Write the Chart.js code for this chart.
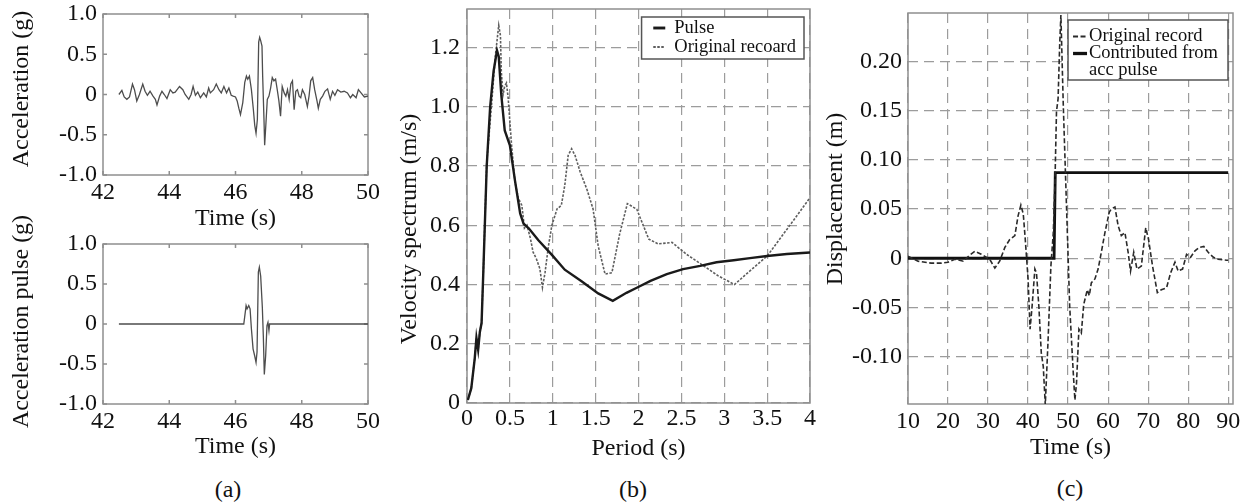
<!DOCTYPE html>
<html>
<head>
<meta charset="utf-8">
<script src="https://cdn.jsdelivr.net/npm/chart.js@4.4.1/dist/chart.umd.min.js"></script>
<style>
  body { margin: 0; background: #fff; }
  #figura { position: relative; width: 1248px; height: 504px; overflow: hidden; background: #fff; }
  canvas { position: absolute; }
  .pie { position: absolute; font: 24px "Liberation Serif", "Times New Roman", serif; color: #111; transform: translate(-50%, -50%); }
</style>
</head>
<body>
<div id="figura">
  <canvas id="graficoA1" width="380" height="233" style="left:0px;top:0px"></canvas>
  <canvas id="graficoA2" width="380" height="271" style="left:0px;top:190px"></canvas>
  <canvas id="graficoB" width="445" height="463" style="left:380px;top:0px"></canvas>
  <canvas id="graficoC" width="433" height="462" style="left:815px;top:0px"></canvas>
  <div class="pie" style="left:228px;top:489px">(a)</div>
  <div class="pie" style="left:633px;top:489px">(b)</div>
  <div class="pie" style="left:1070px;top:488px">(c)</div>
</div>
<script>
// (a) aceleracion registrada
const tiempoAcel = [
    42.48, 42.57, 42.64, 42.72, 42.80, 42.89, 42.95, 43.02, 43.10, 43.20,
    43.27, 43.34, 43.42, 43.51, 43.58, 43.63, 43.71, 43.78, 43.85, 43.93,
    44.03, 44.11, 44.18, 44.31, 44.41, 44.48, 44.59, 44.66, 44.72, 44.79,
    44.86, 44.94, 45.04, 45.12, 45.19, 45.24, 45.34, 45.42, 45.50, 45.57,
    45.65, 45.73, 45.80, 45.87, 45.93, 46.00, 46.05, 46.10, 46.15, 46.22,
    46.28, 46.33, 46.37, 46.42, 46.48, 46.54, 46.58, 46.62, 46.66, 46.70,
    46.73, 46.76, 46.80, 46.82, 46.86, 46.88, 46.92, 46.96, 47.01, 47.06,
    47.11, 47.16, 47.21, 47.26, 47.31, 47.36, 47.41, 47.47, 47.52, 47.57,
    47.62, 47.67, 47.72, 47.77, 47.82, 47.87, 47.92, 47.97, 48.02, 48.09,
    48.17, 48.22, 48.27, 48.33, 48.39, 48.46, 48.50, 48.56, 48.63, 48.70,
    48.78, 48.86, 48.93, 49.00, 49.08, 49.18, 49.28, 49.38, 49.47, 49.54,
    49.64, 49.71, 49.79, 49.89, 50.00,
];
const valorAcel = [
    0, 0.05, -0.03, -0.06, -0.03, 0.13, 0.06, -0.08, 0, 0.13,
    0.04, -0.01, 0.04, -0.02, -0.06, -0.13, -0.02, 0.04, 0, -0.05,
    0.06, 0.02, 0.03, 0.10, 0.06, 0, -0.06, 0, 0.10, -0.01,
    0.03, -0.04, 0.02, -0.03, 0.08, 0.02, 0.06, 0.13, 0.06, 0.02,
    0.10, 0.02, 0.08, -0.01, -0.02, -0.03, -0.08, -0.17, -0.25, -0.10,
    0.15, 0.23, 0.19, 0.23, 0.06, -0.19, -0.38, -0.48, -0.31, 0.65,
    0.71, 0.67, 0.60, 0.23, -0.31, -0.63, -0.35, -0.06, -0.02, 0.08,
    0.21, 0.17, 0.19, 0.06, -0.08, -0.27, 0.10, 0.02, -0.02, 0.06,
    -0.06, 0.13, 0.17, -0.19, 0.04, 0.06, -0.02, -0.04, 0.06, 0,
    -0.15, -0.02, 0.17, 0.21, 0.06, -0.08, -0.17, -0.06, -0.02, 0.04,
    0.07, -0.06, 0.04, -0.01, 0.06, 0.03, 0.04, 0.02, -0.04, 0,
    -0.04, 0.06, 0.02, -0.03, -0.02,
];

// (a) pulso de aceleracion
const tiempoPulso = [42.48, 46.25, 46.32, 46.35, 46.40, 46.44, 46.48, 46.53, 46.58, 46.62, 46.65, 46.69, 46.72, 46.76, 46.81, 46.84, 46.87, 46.91, 46.95, 46.98, 47.01, 47.03, 50];
const valorPulso = [0, 0, 0.23, 0.19, 0.23, 0.19, -0.06, -0.31, -0.40, -0.48, -0.35, 0.65, 0.71, 0.60, 0.21, -0.15, -0.63, -0.40, -0.02, 0.02, -0.08, 0, 0];

// (b) espectro de velocidad
const periodoPulso = [0.01, 0.05, 0.09, 0.11, 0.13, 0.15, 0.17, 0.19, 0.23, 0.27, 0.31, 0.35, 0.37, 0.40, 0.44, 0.50, 0.56, 0.62, 0.66, 0.72, 0.83, 0.99, 1.14, 1.34, 1.53, 1.70, 1.86, 1.98, 2.14, 2.33, 2.52, 2.72, 2.91, 3.11, 3.30, 3.50, 3.73, 4.0];
const espectroPulso = [0.01, 0.05, 0.15, 0.22, 0.18, 0.24, 0.27, 0.44, 0.80, 1.00, 1.12, 1.19, 1.17, 1.04, 0.92, 0.87, 0.75, 0.64, 0.605, 0.59, 0.55, 0.50, 0.45, 0.41, 0.37, 0.345, 0.372, 0.389, 0.412, 0.435, 0.452, 0.463, 0.475, 0.482, 0.489, 0.496, 0.503, 0.508];
const periodoOriginal = [
    0.01, 0.05, 0.09, 0.11, 0.13, 0.15, 0.17, 0.19, 0.23, 0.29,
    0.33, 0.37, 0.39, 0.40, 0.42, 0.44, 0.46, 0.48, 0.52, 0.56,
    0.60, 0.64, 0.67, 0.70, 0.74, 0.77, 0.81, 0.85, 0.88, 0.91,
    0.95, 0.99, 1.05, 1.10, 1.14, 1.18, 1.22, 1.26, 1.32, 1.40,
    1.47, 1.53, 1.61, 1.69, 1.78, 1.87, 1.98, 2.12, 2.23, 2.39,
    2.56, 2.76, 2.93, 3.12, 3.30, 3.50, 3.73, 4.0,
];
const espectroOriginal = [
    0.01, 0.05, 0.15, 0.22, 0.18, 0.24, 0.27, 0.44, 0.81, 1.02,
    1.17, 1.275, 1.24, 1.12, 1.04, 1.07, 1.08, 1.03, 0.87, 0.745,
    0.69, 0.667, 0.59, 0.60, 0.555, 0.51, 0.486, 0.453, 0.39, 0.44,
    0.53, 0.60, 0.655, 0.667, 0.734, 0.836, 0.858, 0.836, 0.78, 0.72,
    0.655, 0.53, 0.435, 0.44, 0.57, 0.673, 0.654, 0.553, 0.537, 0.542,
    0.502, 0.463, 0.429, 0.40, 0.446, 0.496, 0.586, 0.693,
];

// (c) desplazamiento
const tiempoDesp = [
    10, 12.5, 15.8, 18.3, 20, 21.7, 23.8, 25.4, 26.7, 28.3,
    30.4, 31.7, 32.9, 34.2, 35.4, 36.7, 37.5, 38.2, 38.8, 39.3,
    40, 40.5, 41, 41.7, 42.1, 42.7, 43.3, 43.8, 44.3, 45,
    45.7, 46.3, 46.7, 47.1, 47.5, 47.9, 48.2, 48.8, 49.6, 50.4,
    51.3, 51.7, 52.1, 52.7, 53.3, 53.9, 54.8, 55.3, 55.8, 56.7,
    57.5, 58.3, 59.2, 60.3, 60.8, 61.7, 62.5, 63.3, 64.2, 65,
    65.6, 66.4, 67.2, 68.3, 69.4, 70.1, 71.1, 72.3, 73.3, 74.6,
    75.6, 76.7, 77.5, 78.6, 79.6, 80.6, 81.7, 82.8, 83.9, 85,
    86.3, 87.5, 89.6, 90,
];
const despOriginal = [
    0.002, -0.003, -0.005, -0.005, -0.004, -0.001, -0.003, 0.003, 0.007, 0.004,
    -0.001, -0.010, -0.003, 0.011, 0.019, 0.023, 0.043, 0.054, 0.045, 0.019,
    -0.021, -0.072, -0.049, -0.011, -0.015, -0.049, -0.096, -0.110, -0.149, -0.083,
    -0.008, 0.026, 0.074, 0.149, 0.162, 0.217, 0.247, 0.155, 0.053, -0.049,
    -0.117, -0.144, -0.127, -0.072, -0.076, -0.047, -0.032, -0.038, -0.025, -0.021,
    -0.011, 0.006, 0.026, 0.047, 0.050, 0.052, 0.033, 0.023, 0.026, 0.006,
    -0.013, 0.006, -0.011, -0.008, 0.031, 0.019, -0.008, -0.035, -0.032, -0.030,
    -0.015, -0.004, -0.013, -0.011, 0.004, 0.001, 0.0075, 0.011, 0.012, 0.006,
    0.001, -0.001, -0.002, -0.002,
];
const tiempoAporte = [10, 46.5, 46.8, 90];
const despAporte = [0, 0, 0.087, 0.087];

const fuente = "'Liberation Serif', 'Times New Roman', serif";

Chart.defaults.font.family = fuente;
Chart.defaults.font.size = 24;
Chart.defaults.color = "#111";

const puntos = (xs, ys) => xs.map((x, i) => ({ x: x, y: ys[i] }));

const conCero = (dec) => (v) => (Math.abs(v) < 1e-9 ? "0" : v.toFixed(dec));

// marco gris alrededor del area de trazado
const marco = {
    id: "marco",
    beforeDatasetsDraw(chart, args, opts) {
        const { ctx, chartArea: a, scales } = chart;
        ctx.save();
        ctx.strokeStyle = "#8f8f8f";
        ctx.lineWidth = 1.5;
        ctx.strokeRect(a.left, a.top, a.right - a.left, a.bottom - a.top);
        if (opts.ticksInternos) {
            ctx.beginPath();
            scales.x.ticks.forEach((t) => {
                const px = scales.x.getPixelForValue(t.value);
                ctx.moveTo(px, a.bottom);
                ctx.lineTo(px, a.bottom - 4);
                ctx.moveTo(px, a.top);
                ctx.lineTo(px, a.top + 4);
            });
            scales.y.ticks.forEach((t) => {
                const py = scales.y.getPixelForValue(t.value);
                ctx.moveTo(a.left, py);
                ctx.lineTo(a.left + 4, py);
                ctx.moveTo(a.right, py);
                ctx.lineTo(a.right - 4, py);
            });
            ctx.stroke();
        }
        ctx.restore();
    },
};

// titulo vertical del eje y
const tituloY = {
    id: "tituloY",
    afterDraw(chart, args, o) {
        const { ctx, chartArea: a } = chart;
        ctx.save();
        ctx.translate(o.x, (a.top + a.bottom) / 2 + o.desplazar);
        ctx.rotate(-Math.PI / 2);
        ctx.font = "24px " + fuente;
        ctx.fillStyle = "#111";
        ctx.textAlign = "center";
        ctx.textBaseline = "middle";
        ctx.fillText(o.texto, 0, 0);
        ctx.restore();
    },
};

// leyenda con caja
const leyendaCaja = {
    id: "leyendaCaja",
    afterDraw(chart, args, o) {
        const { ctx, chartArea: a } = chart;
        const sets = chart.data.datasets;
        ctx.save();
        ctx.font = o.tamano + "px " + fuente;
        let ancho = 0;
        let lineas = 0;
        sets.forEach((ds) => {
            ds.label.split("\n").forEach((t) => {
                ancho = Math.max(ancho, ctx.measureText(t).width);
                lineas++;
            });
        });
        const w = o.padIzq + o.muestra + o.hueco + ancho + o.padDer;
        const h = o.padSup + lineas * o.interlinea + o.padInf;
        const x0 = a.right - o.margenDer - w;
        const y0 = a.top + o.margenSup;
        ctx.fillStyle = "#fff";
        ctx.fillRect(x0, y0, w, h);
        ctx.strokeStyle = "#555";
        ctx.lineWidth = 1.5;
        ctx.strokeRect(x0, y0, w, h);
        let y = y0 + o.padSup + o.interlinea / 2;
        sets.forEach((ds) => {
            ctx.save();
            ctx.strokeStyle = ds.borderColor;
            ctx.lineWidth = ds.borderWidth + 0.5;
            ctx.setLineDash(ds.borderDash || []);
            ctx.beginPath();
            ctx.moveTo(x0 + o.padIzq, y);
            ctx.lineTo(x0 + o.padIzq + o.muestra, y);
            ctx.stroke();
            ctx.restore();
            ctx.fillStyle = "#111";
            ctx.textAlign = "left";
            ctx.textBaseline = "middle";
            ds.label.split("\n").forEach((t) => {
                ctx.fillText(t, x0 + o.padIzq + o.muestra + o.hueco, y);
                y += o.interlinea;
            });
        });
        ctx.restore();
    },
};

function crearGrafico(id, conjuntos, op) {
    const rejilla = op.rejilla
        ? { color: "#9c9c9c", lineWidth: 1.2, drawTicks: false }
        : { display: false, drawTicks: false };
    return new Chart(document.getElementById(id), {
        type: "line",
        data: { datasets: conjuntos },
        options: {
            responsive: false,
            animation: false,
            events: [],
            layout: { padding: op.padding },
            elements: { point: { radius: 0 }, line: { tension: 0 } },
            plugins: {
                legend: { display: false },
                tooltip: { enabled: false },
                marco: { ticksInternos: !op.rejilla },
                tituloY: op.tituloY,
                leyendaCaja: op.leyenda || false,
            },
            scales: {
                x: {
                    type: "linear",
                    min: op.x.min,
                    max: op.x.max,
                    afterFit: (s) => {
                        s.height = op.x.alto;
                        s.paddingLeft = 0;
                        s.paddingRight = 0;
                    },
                    ticks: {
                        stepSize: op.x.paso,
                        includeBounds: false,
                        autoSkip: false,
                        maxRotation: 0,
                        padding: op.x.pad,
                        color: "#111",
                        font: { family: fuente, size: 24 },
                        callback: op.x.formato,
                    },
                    grid: rejilla,
                    border: { display: false, dash: [10, 6] },
                    title: {
                        display: true,
                        text: op.x.titulo,
                        color: "#111",
                        font: { family: fuente, size: 24 },
                        padding: { top: 0, bottom: 0 },
                    },
                },
                y: {
                    type: "linear",
                    min: op.y.min,
                    max: op.y.max,
                    afterFit: (s) => {
                        s.width = op.y.ancho;
                        s.paddingTop = 0;
                        s.paddingBottom = 0;
                    },
                    ticks: {
                        stepSize: op.y.paso,
                        includeBounds: false,
                        autoSkip: false,
                        padding: op.y.pad,
                        color: "#111",
                        font: { family: fuente, size: 24 },
                        callback: op.y.formato,
                    },
                    grid: rejilla,
                    border: { display: false, dash: [10, 6] },
                },
            },
        },
        plugins: [marco, tituloY, leyendaCaja],
    });
}

const graficoA1 = crearGrafico(
    "graficoA1",
    [
        {
            label: "Acceleration",
            data: puntos(tiempoAcel, valorAcel),
            borderColor: "#4d4d4d",
            borderWidth: 1.3,
        },
    ],
    {
        padding: { top: 14, left: 0, right: 12, bottom: 0 },
        x: { min: 42, max: 50, paso: 2, alto: 58, pad: 3, titulo: "Time (s)" },
        y: { min: -1, max: 1, paso: 0.5, ancho: 103, pad: 6, formato: conCero(1) },
        tituloY: { texto: "Acceleration (g)", x: 22, desplazar: -5.5 },
    }
);

const graficoA2 = crearGrafico(
    "graficoA2",
    [
        {
            label: "Acceleration pulse",
            data: puntos(tiempoPulso, valorPulso),
            borderColor: "#4d4d4d",
            borderWidth: 1.3,
        },
    ],
    {
        padding: { top: 54, left: 0, right: 12, bottom: 0 },
        x: { min: 42, max: 50, paso: 2, alto: 57, pad: 3, titulo: "Time (s)" },
        y: { min: -1, max: 1, paso: 0.5, ancho: 103, pad: 6, formato: conCero(1) },
        tituloY: { texto: "Acceleration pulse (g)", x: 22, desplazar: -2.5 },
    }
);

const graficoB = crearGrafico(
    "graficoB",
    [
        {
            label: "Pulse",
            data: puntos(periodoPulso, espectroPulso),
            borderColor: "#1a1a1a",
            borderWidth: 2.4,
        },
        {
            label: "Original recoard",
            data: puntos(periodoOriginal, espectroOriginal),
            borderColor: "#5e5e5e",
            borderWidth: 1.6,
            borderDash: [2.5, 1.5],
        },
    ],
    {
        rejilla: true,
        padding: { top: 9, left: 0, right: 15, bottom: 0 },
        x: { min: 0, max: 4, paso: 0.5, alto: 60, pad: 1, titulo: "Period (s)" },
        y: { min: 0, max: 1.33, paso: 0.2, ancho: 87, pad: 7, formato: conCero(1) },
        tituloY: { texto: "Velocity spectrum (m/s)", x: 30, desplazar: 23 },
        leyenda: {
            tamano: 18.5, interlinea: 19, padSup: 1.5, padInf: 2.5,
            padIzq: 11.7, muestra: 12, hueco: 9, padDer: 8,
            margenDer: 6, margenSup: 8,
        },
    }
);

const graficoC = crearGrafico(
    "graficoC",
    [
        {
            label: "Original record",
            data: puntos(tiempoDesp, despOriginal),
            borderColor: "#2a2a2a",
            borderWidth: 1.6,
            borderDash: [5, 2.5],
        },
        {
            label: "Contributed from\nacc pulse",
            data: puntos(tiempoAporte, despAporte),
            borderColor: "#111",
            borderWidth: 2.8,
        },
    ],
    {
        rejilla: true,
        padding: { top: 13, left: 0, right: 15, bottom: 0 },
        x: { min: 10, max: 91.2, paso: 10, alto: 58, pad: 3, titulo: "Time (s)" },
        y: { min: -0.148, max: 0.249, paso: 0.05, ancho: 93, pad: 6, formato: conCero(2) },
        tituloY: { texto: "Displacement (m)", x: 21, desplazar: -9.5 },
        leyenda: {
            tamano: 18.5, interlinea: 17, padSup: 8, padInf: 1,
            padIzq: 5, muestra: 14, hueco: 2, padDer: 10,
            margenDer: 5, margenSup: 7,
        },
    }
);
</script>
</body>
</html>
